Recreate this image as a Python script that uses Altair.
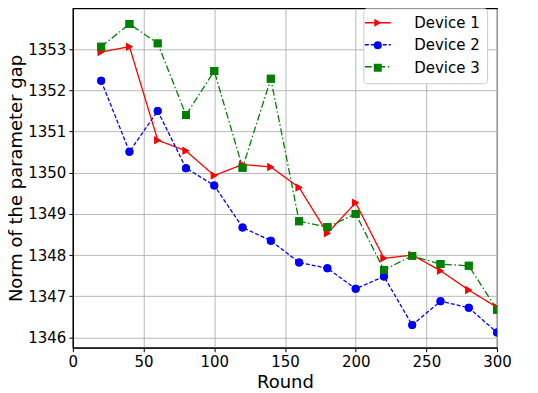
import altair as alt
import pandas as pd

rounds = [20, 40, 60, 80, 100, 120, 140, 160, 180, 200, 220, 240, 260, 280, 300]
device1 = [1352.93, 1353.06, 1350.79, 1350.53, 1349.93, 1350.20, 1350.14, 1349.64,
           1348.53, 1349.27, 1347.92, 1348.00, 1347.62, 1347.15, 1346.73]
device2 = [1352.23, 1350.51, 1351.50, 1350.11, 1349.69, 1348.67, 1348.35, 1347.82,
           1347.68, 1347.18, 1347.48, 1346.30, 1346.88, 1346.72, 1346.12]
device3 = [1353.06, 1353.61, 1353.14, 1351.40, 1352.47, 1350.12, 1352.28, 1348.82,
           1348.68, 1349.00, 1347.64, 1347.98, 1347.78, 1347.74, 1346.67]
names = ["Device 1", "Device 2", "Device 3"]
marker_names = [n + " " for n in names]  # separate legend domain (markers)
colors = ["#ff0000", "#0000ff", "#008000"]
shapes = ["triangle-right", "circle", "square"]
dashes = [[1, 0], [4, 2], [7, 2.5, 1.5, 2.5]]
x_ticks = [0, 50, 100, 150, 200, 250, 300]
y_ticks = [1346, 1347, 1348, 1349, 1350, 1351, 1352, 1353]

rows = []
for name, mname, vals in zip(names, marker_names, [device1, device2, device3]):
    for r, v in zip(rounds, vals):
        rows.append({"Round": r, "Value": v, "Device": name, "Dev": mname})
df = pd.DataFrame(rows)

FONT = "DejaVu Sans"

x_enc = alt.X("Round:Q", scale=alt.Scale(domain=[0, 300], nice=False),
              axis=alt.Axis(values=x_ticks, title="Round", format="d", labelFlush=False))
y_enc = alt.Y("Value:Q", scale=alt.Scale(domain=[1345.75, 1353.99], nice=False, zero=False),
              axis=alt.Axis(values=y_ticks, title="Norm of the parameter gap", format="d", labelFlush=False))

base = alt.Chart(df)

# Legend B: markers + visible labels + box (drawn first)
legend_b = alt.Legend(
    title=None, orient="none", legendX=291, legendY=0,
    symbolSize=64, symbolStrokeWidth=0, symbolOpacity=1,
    labelFont=FONT, labelFontSize=15, labelColor="black", labelOffset=29,
    fillColor="white", strokeColor="#cccccc", cornerRadius=3,
    padding=7, rowPadding=6.5,
)
# Legend A: line symbols with dashes, hidden labels, no box (drawn on top)
legend_a = alt.Legend(
    title=None, orient="none", legendX=291.5, legendY=0.5,
    symbolSize=676, symbolStrokeWidth=1.5, symbolOpacity=1,
    labelFont=FONT, labelFontSize=15, labelOpacity=0, labelOffset=12,
    padding=0, rowPadding=-6.5,
)

points_legend = base.mark_point(filled=True, size=64, opacity=1, clip=True).encode(
    x=x_enc, y=y_enc,
    color=alt.Color("Dev:N", scale=alt.Scale(domain=marker_names, range=colors), legend=legend_b),
    shape=alt.Shape("Dev:N", scale=alt.Scale(domain=marker_names, range=shapes), legend=legend_b),
)

lines = base.mark_line(strokeWidth=1.3, clip=True).encode(
    x=x_enc, y=y_enc,
    stroke=alt.Stroke("Device:N", scale=alt.Scale(domain=names, range=colors), legend=legend_a),
    strokeDash=alt.StrokeDash("Device:N", scale=alt.Scale(domain=names, range=dashes), legend=legend_a),
)

top_points = []
for name, shp, col in zip(names, shapes, colors):
    top_points.append(
        base.transform_filter(alt.datum.Device == name).mark_point(
            shape=shp, filled=True, size=64, opacity=1, clip=True, color=col
        ).encode(x=x_enc, y=y_enc)
    )

chart = alt.layer(points_legend, lines, *top_points).properties(
    width=425, height=340,
    autosize=alt.AutoSizeParams(type="none"),
    padding={"left": 65, "top": 0, "right": 33, "bottom": 45},
).configure_view(
    stroke="black", strokeWidth=1.2
).configure_axis(
    labelFont=FONT, labelFontSize=15, labelColor="black",
    titleFont=FONT, titleFontSize=18, titleColor="black", titleFontWeight="normal",
    domainColor="black", domainWidth=1.2, tickColor="black", tickSize=4, tickWidth=1,
    grid=True, gridColor="#b0b0b0", gridWidth=0.9, labelPadding=3,
).configure_axisX(titlePadding=4).configure_axisY(titlePadding=2)

chart.save("out.html", embed_options={"renderer": "svg", "actions": False})
